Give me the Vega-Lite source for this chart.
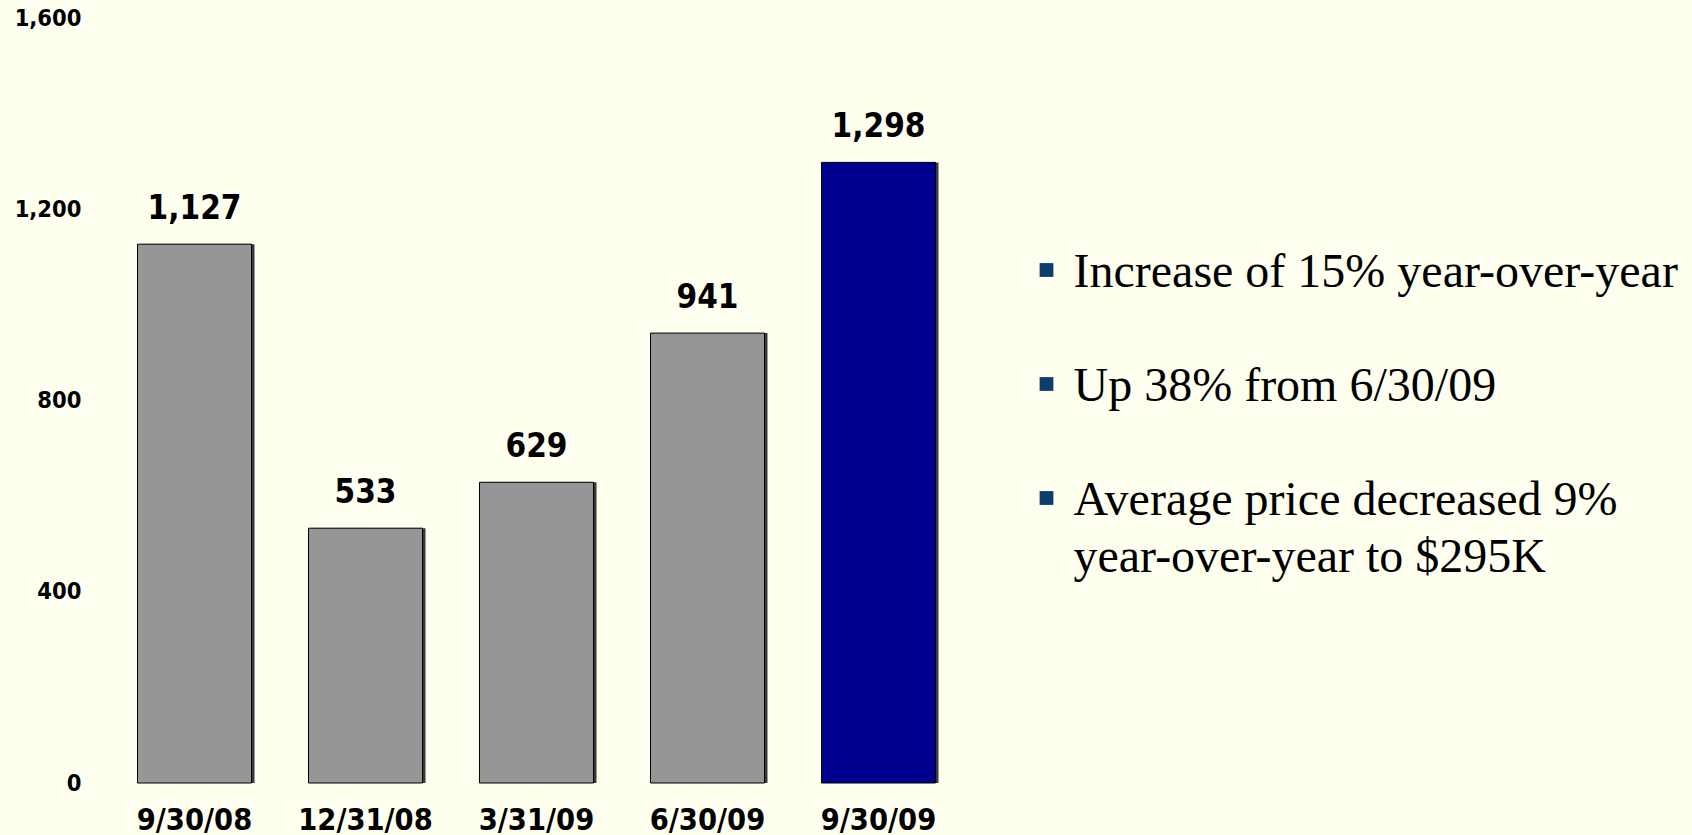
{
  "$schema": "https://vega.github.io/schema/vega-lite/v6.json",
  "background": "#FFFFF0",
  "padding": {"left": 14, "top": 6, "right": 0, "bottom": 0},
  "bounds": "flush",
  "spacing": 82.5,
  "config": {"view": {"stroke": null}, "font": "DejaVu Sans Condensed"},
  "hconcat": [
    {
      "width": 855,
      "height": 765,
      "data": {
        "values": [
          {"date": "9/30/08", "value": 1127},
          {"date": "12/31/08", "value": 533},
          {"date": "3/31/09", "value": 629},
          {"date": "6/30/09", "value": 941},
          {"date": "9/30/09", "value": 1298}
        ]
      },
      "encoding": {
        "x": {
          "field": "date",
          "type": "ordinal",
          "sort": null,
          "scale": {"paddingInner": 0.3333, "paddingOuter": 0.1667},
          "axis": {
            "title": null,
            "domain": false,
            "ticks": false,
            "grid": false,
            "labelAngle": 0,
            "labelOverlap": false,
            "labelPadding": 46,
            "labelBaseline": "alphabetic",
            "labelFont": "DejaVu Sans Condensed",
            "labelFontSize": 30.5,
            "labelFontWeight": "bold",
            "labelColor": "#000000"
          }
        },
        "y": {
          "field": "value",
          "type": "quantitative",
          "scale": {"domain": [0, 1600], "nice": false},
          "axis": {
            "title": null,
            "values": [0, 400, 800, 1200, 1600],
            "format": ",.0f",
            "domain": false,
            "ticks": false,
            "grid": false,
            "labelPadding": 28,
            "labelFont": "DejaVu Sans Condensed",
            "labelFontSize": 23.5,
            "labelFontWeight": "bold",
            "labelColor": "#000000"
          }
        }
      },
      "layer": [
        {"mark": {"type": "bar", "color": "#3a3a3a", "xOffset": 3}},
        {
          "mark": {"type": "bar", "stroke": "#000000", "strokeWidth": 1},
          "encoding": {
            "color": {
              "condition": {"test": "datum.date === '9/30/09'", "value": "#000090"},
              "value": "#969696"
            }
          }
        },
        {
          "mark": {
            "type": "text",
            "baseline": "alphabetic",
            "dy": -25,
            "font": "DejaVu Sans Condensed",
            "fontSize": 33,
            "fontWeight": "bold",
            "color": "#000000"
          },
          "encoding": {"text": {"field": "value", "type": "quantitative", "format": ",.0f"}}
        }
      ]
    },
    {
      "width": 648,
      "height": 741,
      "data": {
        "values": [
          {"line": 0, "text": "Increase of 15% year-over-year", "bullet": true},
          {"line": 2, "text": "Up 38% from 6/30/09", "bullet": true},
          {"line": 4, "text": "Average price decreased 9%", "bullet": true},
          {"line": 5, "text": "year-over-year to $295K", "bullet": false}
        ]
      },
      "encoding": {
        "y": {
          "field": "line",
          "type": "quantitative",
          "scale": {"domain": [-5, 8], "reverse": true, "nice": false, "zero": false},
          "axis": null
        }
      },
      "layer": [
        {
          "transform": [{"filter": "datum.bullet"}],
          "mark": {"type": "point", "shape": "square", "filled": true, "size": 190, "color": "#0B3B6F", "opacity": 1, "yOffset": -33},
          "encoding": {
            "x": {"datum": 0, "type": "quantitative", "scale": {"domain": [0, 24], "nice": false, "zero": false}, "axis": null}
          }
        },
        {
          "mark": {"type": "text", "align": "left", "baseline": "alphabetic", "dy": -16, "font": "Liberation Serif", "fontSize": 48, "color": "#000000"},
          "encoding": {
            "x": {"datum": 1, "type": "quantitative", "scale": {"domain": [0, 24], "nice": false, "zero": false}, "axis": null},
            "text": {"field": "text", "type": "nominal"}
          }
        }
      ]
    }
  ]
}
